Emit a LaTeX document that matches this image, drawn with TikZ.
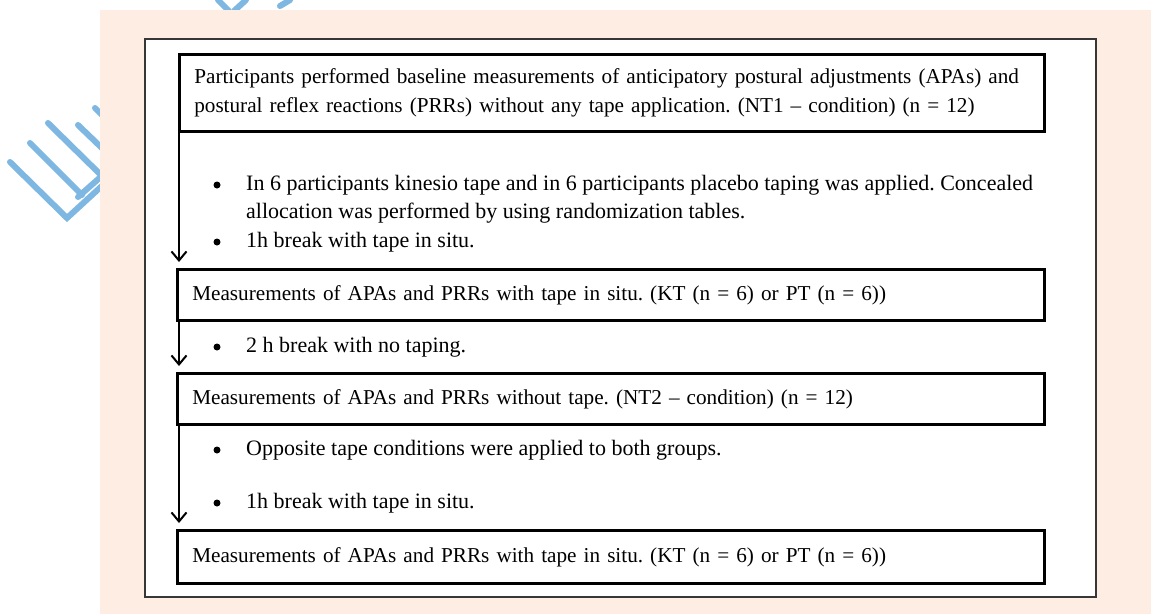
\documentclass[tikz,border=0pt]{standalone}
\usepackage{fontspec}
\setmainfont{Liberation Serif}
\usetikzlibrary{arrows.meta}
\definecolor{peach}{RGB}{253,237,227}
\definecolor{wmblue}{RGB}{125,183,226}
\definecolor{framegray}{RGB}{55,55,55}
\begin{document}
\frenchspacing
\begin{tikzpicture}[x=1pt,y=-1pt,
  wm/.style={draw=wmblue, line width=6pt, line cap=round},
  stepbox/.style={draw=black, line width=2.6pt, fill=white, anchor=north west,
    align=left, inner xsep=15pt, inner ysep=0pt,
    font=\fontsize{21.2}{29}\selectfont\frenchspacing},
  bul/.style={circle, fill=black, inner sep=0pt, minimum size=7pt},
  itm/.style={anchor=base west, inner sep=0pt, font=\fontsize{22}{28}\selectfont\frenchspacing},
  arr/.style={draw=black, line width=2pt, -{Straight Barb[length=9pt,width=15pt,line width=2pt]}, shorten >=6pt}]
\useasboundingbox (0,0) rectangle (1151,614);
\fill[white] (0,0) rectangle (1151,614);
% watermark strokes
\draw[wm] (10,162) -- (67,218) -- (104,184);
\draw[wm] (30,143) -- (82,195);
\draw[wm] (78,197) -- (104,174);
\draw[wm] (48,123) -- (104,178);
\draw[wm] (78,125) -- (104,150);
\draw[wm] (95,108) -- (104,117);
\draw[wm] (218,0) -- (229,11);
\draw[wm] (234,11) -- (246,0);
\draw[wm] (280,6) -- (290,0);
% background
\fill[peach] (100,10) rectangle (1151,614);
\draw[framegray, line width=2pt, fill=white] (145,39) rectangle (1096,597);
% boxes
\node[stepbox, minimum width=865pt, minimum height=77pt, text width=835pt] (b1) at (178,53)
  {Participants performed baseline measurements of anticipatory postural adjustments (APAs) and\\
   postural reflex reactions (PRRs) without any tape application. (NT1 -- condition) (n = 12)};
\node[stepbox, minimum width=867pt, minimum height=51pt, text width=837pt] (b2) at (176,268)
  {Measurements of APAs and PRRs with tape in situ. (KT (n = 6) or PT (n = 6))};
\node[stepbox, minimum width=867pt, minimum height=51pt, text width=837pt] (b3) at (176,372)
  {Measurements of APAs and PRRs without tape. (NT2 -- condition) (n = 12)};
\node[stepbox, minimum width=867pt, minimum height=53pt, text width=837pt] (b4) at (176,529)
  {Measurements of APAs and PRRs with tape in situ. (KT (n = 6) or PT (n = 6))};
% bullets
\node[bul] (p1) at (217,185) {};
\node[itm] (i1) at (246,190) {\vtop{\hbox{In 6 participants kinesio tape and in 6 participants placebo taping was applied. Concealed}
  \hbox{allocation was performed by using randomization tables.}}};
\node[bul] (p2) at (217,242) {};
\node[itm] (i2) at (246,247) {1h break with tape in situ.};
\node[bul] (p3) at (217,347) {};
\node[itm] (i3) at (246,352) {2 h break with no taping.};
\node[bul] (p4) at (217,450) {};
\node[itm] (i4) at (246,455) {Opposite tape conditions were applied to both groups.};
\node[bul] (p5) at (217,503) {};
\node[itm] (i5) at (246,508) {1h break with tape in situ.};
% arrows
\draw[arr] ([xshift=1pt]b1.south west) -- ([xshift=1pt]b1.south west |- b2.north);
\draw[arr] ([xshift=3pt]b2.south west) -- ([xshift=3pt]b2.south west |- b3.north);
\draw[arr] ([xshift=3pt]b3.south west) -- ([xshift=3pt]b3.south west |- b4.north);
\end{tikzpicture}
\end{document}
